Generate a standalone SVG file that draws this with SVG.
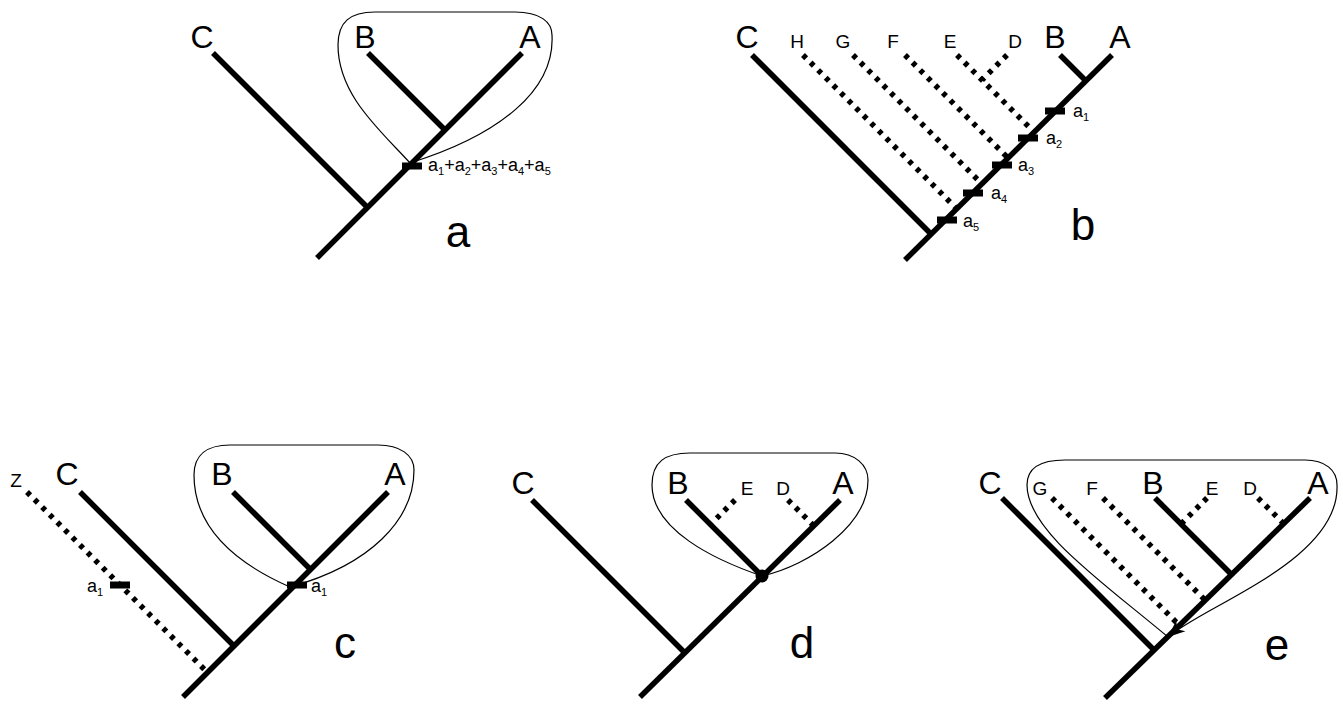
<svg xmlns="http://www.w3.org/2000/svg" width="1343" height="707" viewBox="0 0 1343 707">
<style>
  .br{stroke:#000;stroke-width:5.5;fill:none;stroke-linecap:butt}
  .dot{stroke:#000;stroke-width:5.5;fill:none;stroke-dasharray:4.5 6.2}
  .loop{stroke:#000;stroke-width:1.2;fill:none}
  .big{font-family:"Liberation Sans",Arial,sans-serif;font-size:32px;text-anchor:middle;fill:#000}
  .sm{font-family:"Liberation Sans",Arial,sans-serif;font-size:19px;text-anchor:middle;fill:#000}
  .pl{font-family:"Liberation Sans",Arial,sans-serif;font-size:44px;text-anchor:middle;fill:#000}
  .ai{font-family:"Liberation Sans",Arial,sans-serif;font-size:18px;fill:#000}
  .sub{font-size:11px}
</style>
<defs>
  <rect id="bar" x="-10" y="-3.5" width="20" height="7" fill="#000"/>
  <marker id="arr" markerUnits="userSpaceOnUse" markerWidth="20" markerHeight="20" viewBox="0 0 20 20" refX="19" refY="10" orient="auto">
    <path d="M19,10 L2,3 L7,10 L2,17 Z" fill="#000"/>
  </marker>
</defs>

<!-- Panel a -->
<g id="panel-a">
  <g id="a-connectors">
    <line class="br" x1="317" y1="258" x2="522" y2="53"/>
    <line class="br" x1="213" y1="53" x2="367.5" y2="207.5"/>
    <line class="br" x1="368" y1="53" x2="445" y2="130"/>
    <path class="loop" d="M410,163 C380,130 338,95 338,45 C338,22 350,12 375,12 L515,12 C540,12 552,22 552,35 C555,90 500,135 410,163 Z"/>
  </g>
  <use href="#bar" x="412" y="166"/>
  <text class="big" x="202" y="48">C</text>
  <text class="big" x="365" y="48">B</text>
  <text class="big" x="530" y="48">A</text>
  <text class="ai" x="428" y="171">a<tspan class="sub" dy="4">1</tspan><tspan dy="-4">+a</tspan><tspan class="sub" dy="4">2</tspan><tspan dy="-4">+a</tspan><tspan class="sub" dy="4">3</tspan><tspan dy="-4">+a</tspan><tspan class="sub" dy="4">4</tspan><tspan dy="-4">+a</tspan><tspan class="sub" dy="4">5</tspan></text>
  <text class="pl" x="458" y="247">a</text>
</g>

<!-- Panel b -->
<g id="panel-b">
  <g id="b-connectors">
    <line class="br" x1="905" y1="260" x2="1112" y2="55"/>
    <line class="br" x1="752" y1="55" x2="931" y2="234"/>
    <line class="br" x1="1060" y1="55" x2="1086" y2="81"/>
    <line class="dot" x1="803" y1="55" x2="956" y2="208"/>
    <line class="dot" x1="853" y1="55" x2="981" y2="183"/>
    <line class="dot" x1="905" y1="55" x2="1008" y2="158"/>
    <line class="dot" x1="957" y1="55" x2="1033" y2="131"/>
    <line class="dot" x1="1007" y1="55" x2="982" y2="80"/>
  </g>
  <use href="#bar" x="1055" y="111"/>
  <use href="#bar" x="1028" y="138"/>
  <use href="#bar" x="1002" y="165"/>
  <use href="#bar" x="973" y="193"/>
  <use href="#bar" x="947" y="220"/>
  <text class="big" x="747" y="48">C</text>
  <text class="big" x="1055" y="48">B</text>
  <text class="big" x="1120" y="48">A</text>
  <text class="sm" x="797" y="48">H</text>
  <text class="sm" x="843" y="48">G</text>
  <text class="sm" x="893" y="48">F</text>
  <text class="sm" x="950" y="48">E</text>
  <text class="sm" x="1015" y="48">D</text>
  <text class="ai" x="1073" y="117">a<tspan class="sub" dy="4">1</tspan></text>
  <text class="ai" x="1046" y="144">a<tspan class="sub" dy="4">2</tspan></text>
  <text class="ai" x="1018" y="171">a<tspan class="sub" dy="4">3</tspan></text>
  <text class="ai" x="991" y="199">a<tspan class="sub" dy="4">4</tspan></text>
  <text class="ai" x="963" y="227">a<tspan class="sub" dy="4">5</tspan></text>
  <text class="pl" x="1083" y="240">b</text>
</g>

<!-- Panel c -->
<g id="panel-c">
  <g id="c-connectors">
    <line class="br" x1="183" y1="697" x2="388" y2="492"/>
    <line class="br" x1="80" y1="492" x2="234" y2="646"/>
    <line class="br" x1="233" y1="492" x2="310.5" y2="569.5"/>
    <line class="dot" x1="27" y1="492" x2="205" y2="670"/>
    <path class="loop" d="M290,587 C240,565 194,530 194,475 C194,455 207,445 230,445 L378,445 C400,445 414,455 414,470 C414,520 370,565 290,587 Z"/>
  </g>
  <use href="#bar" x="297" y="585"/>
  <use href="#bar" x="120" y="585"/>
  <text class="sm" x="16" y="487">Z</text>
  <text class="big" x="67" y="485">C</text>
  <text class="big" x="222" y="485">B</text>
  <text class="big" x="395" y="485">A</text>
  <text class="ai" x="311" y="592">a<tspan class="sub" dy="4">1</tspan></text>
  <text class="ai" x="87" y="592">a<tspan class="sub" dy="4">1</tspan></text>
  <text class="pl" x="345" y="658">c</text>
</g>

<!-- Panel d -->
<g id="panel-d">
  <g id="d-connectors">
    <line class="br" x1="640" y1="697" x2="840" y2="500"/>
    <line class="br" x1="532" y1="500" x2="685" y2="653"/>
    <line class="br" x1="686" y1="500" x2="762" y2="576"/>
    <line class="dot" x1="735" y1="500" x2="711" y2="524"/>
    <line class="dot" x1="788" y1="500" x2="813" y2="525"/>
    <path class="loop" d="M762,576 C715,560 652,530 652,485 C652,462 665,453 690,453 L835,453 C855,453 868,465 868,480 C868,525 810,565 762,576 Z"/>
  </g>
  <circle cx="762" cy="576" r="6.5" fill="#000"/>
  <text class="big" x="523" y="494">C</text>
  <text class="big" x="678" y="494">B</text>
  <text class="big" x="843" y="494">A</text>
  <text class="sm" x="747" y="495">E</text>
  <text class="sm" x="783" y="495">D</text>
  <text class="pl" x="802" y="658">d</text>
</g>

<!-- Panel e -->
<g id="panel-e">
  <g id="e-connectors">
    <line class="br" x1="1105" y1="698" x2="1310" y2="498"/>
    <line class="br" x1="1002" y1="498" x2="1154" y2="650"/>
    <line class="br" x1="1155" y1="498" x2="1232" y2="575"/>
    <line class="dot" x1="1052" y1="498" x2="1177" y2="623"/>
    <line class="dot" x1="1103" y1="498" x2="1205" y2="600"/>
    <line class="dot" x1="1207" y1="498" x2="1181" y2="524"/>
    <line class="dot" x1="1258" y1="498" x2="1284" y2="524"/>
    <path class="loop" marker-end="url(#arr)" d="M1168,637 C1100,580 1027,530 1027,485 C1027,468 1040,460 1065,460 L1305,460 C1325,460 1337,470 1337,485 C1340,560 1205,605 1168,637"/>
  </g>
  <text class="big" x="990" y="494">C</text>
  <text class="big" x="1153" y="494">B</text>
  <text class="big" x="1318" y="494">A</text>
  <text class="sm" x="1040" y="495">G</text>
  <text class="sm" x="1092" y="495">F</text>
  <text class="sm" x="1212" y="495">E</text>
  <text class="sm" x="1250" y="495">D</text>
  <text class="pl" x="1277" y="660">e</text>
</g>
</svg>
